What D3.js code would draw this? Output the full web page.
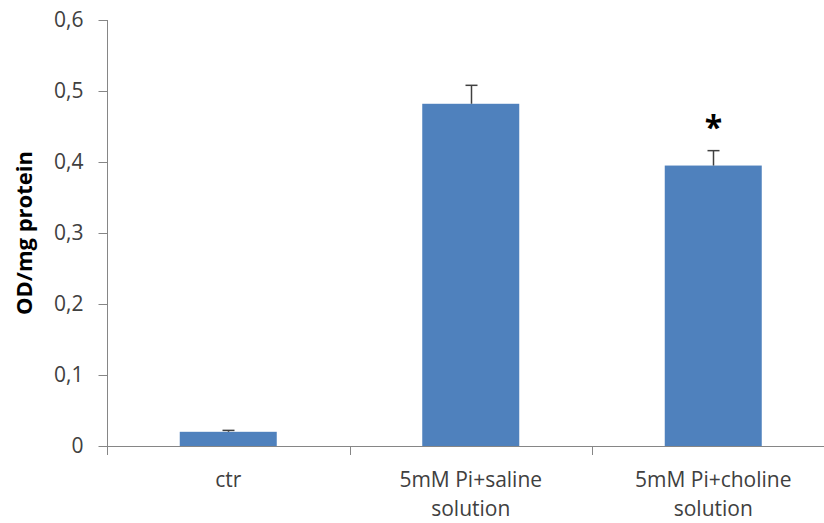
<!DOCTYPE html>
<html>
<head>
<meta charset="utf-8">
<script src="https://cdn.jsdelivr.net/npm/d3@7"></script>
<style>
  html, body { margin: 0; padding: 0; background: #fff; }
  svg { display: block; font-family: "Open Sans", "Liberation Sans", sans-serif; }
</style>
</head>
<body>
<svg id="chart" width="824" height="523"></svg>
<script>
// Absorbance per mg protein for each treatment group
const categories = ["ctr", "5mM Pi+saline solution", "5mM Pi+choline solution"];
const values = [0.020, 0.482, 0.395];
const errors = [0.002, 0.026, 0.021];
const significant = [false, false, true];
const yTicks = [0, 0.1, 0.2, 0.3, 0.4, 0.5, 0.6];
const yTickLabels = ["0", "0,1", "0,2", "0,3", "0,4", "0,5", "0,6"];

const svg = d3.select("#chart");
const margin = { left: 107, top: 20, bottom: 77 };
const plotRight = 834.5;
const plotBottom = 523 - margin.bottom;

const x = d3.scaleBand()
  .domain(categories)
  .range([margin.left, plotRight])
  .paddingInner(0)
  .paddingOuter(0);

const y = d3.scaleLinear()
  .domain([0, 0.6])
  .range([plotBottom, margin.top]);

const axisColor = "#868686";
const textColor = "#404040";
const barColor = "#4F81BD";
const barWidth = x.bandwidth() * 0.4;

// Bars
svg.append("g")
  .selectAll("rect")
  .data(categories)
  .join("rect")
  .attr("x", d => x(d) + (x.bandwidth() - barWidth) / 2)
  .attr("y", (d, i) => y(values[i]))
  .attr("width", barWidth)
  .attr("height", (d, i) => y(0) - y(values[i]))
  .attr("fill", barColor);

// Upper error bars
const err = svg.append("g").attr("stroke", "#404040").attr("stroke-width", 1.5);
categories.forEach((c, i) => {
  const cx = Math.round(x(c) + x.bandwidth() / 2) + 0.5;
  const top = y(values[i] + errors[i]);
  err.append("line")
    .attr("x1", cx).attr("x2", cx)
    .attr("y1", y(values[i])).attr("y2", top);
  err.append("line")
    .attr("x1", cx - 6).attr("x2", cx + 6)
    .attr("y1", top).attr("y2", top);
  if (significant[i]) {
    svg.append("text")
      .attr("x", cx)
      .attr("y", top - 12)
      .attr("text-anchor", "middle")
      .attr("font-size", 32)
      .attr("font-weight", "bold")
      .attr("fill", "#000")
      .text("*");
  }
});

// Y axis
const yAxis = d3.axisLeft(y)
  .tickValues(yTicks)
  .tickFormat((d, i) => yTickLabels[i])
  .tickSize(9)
  .tickPadding(15);

const gy = svg.append("g")
  .attr("transform", `translate(${margin.left + 0.5},0)`)
  .call(yAxis);
gy.select(".domain").attr("stroke", axisColor).attr("d", `M-0,${y(0.6)}V${y(0) + 9}`);
gy.selectAll(".tick line").attr("stroke", axisColor);
gy.selectAll(".tick text")
  .attr("fill", textColor)
  .attr("font-size", 21)
  .attr("font-family", "Open Sans, Liberation Sans, sans-serif");

// X axis
const xAxis = d3.axisBottom(x).tickSize(0).tickFormat("");
const gx = svg.append("g")
  .attr("transform", `translate(0,${plotBottom + 0.5})`)
  .call(xAxis);
gx.select(".domain").attr("stroke", axisColor).attr("d", `M${margin.left},0H824`);
gx.selectAll(".tick").remove();

// Category separators
const seps = categories.map(c => x(c)).concat([x(categories[categories.length - 1]) + x.bandwidth()]);
svg.append("g")
  .selectAll("line")
  .data(seps)
  .join("line")
  .attr("x1", d => Math.round(d) + 0.5)
  .attr("x2", d => Math.round(d) + 0.5)
  .attr("y1", plotBottom)
  .attr("y2", plotBottom + 9)
  .attr("stroke", axisColor);

// Category labels, wrapped into two lines where needed
const labelLines = {
  "ctr": ["ctr"],
  "5mM Pi+saline solution": ["5mM Pi+saline", "solution"],
  "5mM Pi+choline solution": ["5mM Pi+choline", "solution"]
};
categories.forEach(c => {
  const t = svg.append("text")
    .attr("x", x(c) + x.bandwidth() / 2)
    .attr("y", plotBottom + 41)
    .attr("text-anchor", "middle")
    .attr("font-size", 21)
    .attr("fill", textColor);
  labelLines[c].forEach((line, k) => {
    t.append("tspan")
      .attr("x", x(c) + x.bandwidth() / 2)
      .attr("dy", k === 0 ? 0 : 29)
      .text(line);
  });
});

// Y axis title
svg.append("text")
  .attr("transform", `translate(32,${(y(0) + y(0.6)) / 2}) rotate(-90)`)
  .attr("text-anchor", "middle")
  .attr("font-size", 22)
  .attr("font-weight", "bold")
  .attr("fill", "#000")
  .text("OD/mg protein");
</script>
</body>
</html>
